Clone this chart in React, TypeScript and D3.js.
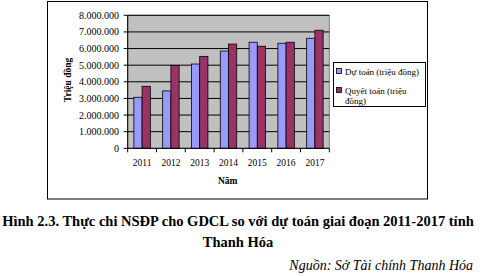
import React from "react";
import * as d3 from "d3";

const categories = ["2011", "2012", "2013", "2014", "2015", "2016", "2017"];
const duToan = [3070000, 3450000, 5070000, 5850000, 6380000, 6320000, 6620000];
const quyetToan = [3730000, 4990000, 5530000, 6270000, 6140000, 6380000, 7100000];
const seriesNames = ["Dự toán (triệu đồng)", "Quyết toán (triệu đồng)"];
const yTicks = [0, 1000000, 2000000, 3000000, 4000000, 5000000, 6000000, 7000000, 8000000];

const W = 499, H = 276;
const plot = { left: 127.7, right: 329.3, top: 15.3, bottom: 148.3 };
const colors = ["#9999FF", "#993366"];
const serif = "'Liberation Serif', 'Times New Roman', serif";

export default function App() {
  const x = d3.scaleBand<string>().domain(categories).range([plot.left, plot.right]).paddingInner(0).paddingOuter(0);
  const y = d3.scaleLinear().domain([0, 8000000]).range([plot.bottom, plot.top]);
  const bw = x.bandwidth();
  const barW = bw / (2 + 1.5);
  const fmt = (v: number) => d3.format(",")(v).replace(/,/g, ".");
  const series = [duToan, quyetToan];

  return (
    <svg width={W} height={H} style={{ position: "absolute", left: 0, top: 0, background: "#fff" }} fontFamily={serif}>
      <rect x={47.5} y={1.5} width={380} height={197.5} fill="#fff" stroke="#000" strokeWidth={1} />
      <rect x={plot.left} y={plot.top} width={plot.right - plot.left} height={plot.bottom - plot.top} fill="#C0C0C0" stroke="#808080" strokeWidth={1} />
      {yTicks.map((t) => (
        <g key={t}>
          {t > 0 && <line x1={plot.left} x2={plot.right} y1={y(t)} y2={y(t)} stroke="#000" strokeWidth={1} />}
          <line x1={plot.left - 4} x2={plot.left} y1={y(t)} y2={y(t)} stroke="#000" strokeWidth={1} />
          <text x={119} y={y(t)} dy="0.35em" textAnchor="end" fontSize={10}>{fmt(t)}</text>
        </g>
      ))}
      {series.map((vals, si) =>
        vals.map((v, i) => {
          const cx = (x(categories[i]) as number) + bw / 2;
          const x0 = cx - barW + si * barW;
          return (
            <rect key={`${si}-${i}`} x={x0} y={y(v)} width={barW} height={plot.bottom - y(v)} fill={colors[si]} stroke="#000" strokeWidth={0.8} />
          );
        })
      )}
      <line x1={plot.left} x2={plot.left} y1={plot.top} y2={plot.bottom} stroke="#000" strokeWidth={1} />
      <line x1={plot.left} x2={plot.right} y1={plot.bottom} y2={plot.bottom} stroke="#000" strokeWidth={1} />
      {categories.map((c, i) => (
        <g key={c}>
          <line x1={x(c) as number} x2={x(c) as number} y1={plot.bottom} y2={plot.bottom + 4} stroke="#000" />
          {i === categories.length - 1 && (
            <line x1={plot.right} x2={plot.right} y1={plot.bottom} y2={plot.bottom + 4} stroke="#000" />
          )}
          <text x={(x(c) as number) + bw / 2} y={166} textAnchor="middle" fontSize={9.5}>{c}</text>
        </g>
      ))}
      <text x={227.7} y={184} textAnchor="middle" fontSize={9.5} fontWeight="bold">Năm</text>
      <text transform="translate(71,80) rotate(-90)" textAnchor="middle" fontSize={9.5} fontWeight="bold">Triệu đồng</text>

      <rect x={333.5} y={62.5} width={92} height={44} fill="#fff" stroke="#000" strokeWidth={1} />
      <rect x={336.5} y={68.5} width={5} height={5} fill={colors[0]} stroke="#000" strokeWidth={0.8} />
      <text x={345} y={74.5} fontSize={9}>{seriesNames[0]}</text>
      <rect x={336.5} y={87.5} width={5} height={5} fill={colors[1]} stroke="#000" strokeWidth={0.8} />
      <text x={345} y={94} fontSize={9}>Quyết toán (triệu</text>
      <text x={345} y={104} fontSize={9}>đồng)</text>

      <text x={238} y={226} textAnchor="middle" fontSize={14.5} fontWeight="bold">Hình 2.3. Thực chi NSĐP cho GDCL so với dự toán giai đoạn 2011-2017 tỉnh</text>
      <text x={238} y={247} textAnchor="middle" fontSize={14.5} fontWeight="bold">Thanh Hóa</text>
      <text x={473} y={270} textAnchor="end" fontSize={14} fontStyle="italic">Nguồn: Sở Tài chính Thanh Hóa</text>
    </svg>
  );
}
